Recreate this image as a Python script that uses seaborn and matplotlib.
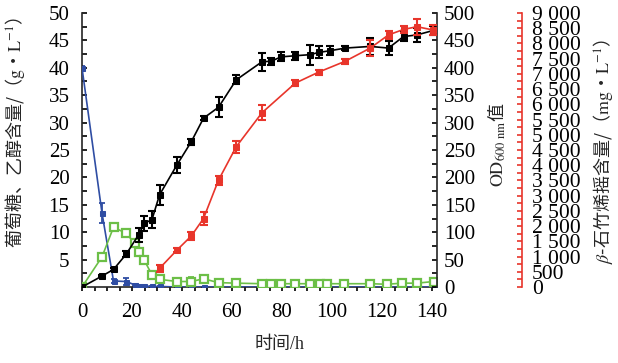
import numpy as np
import matplotlib
matplotlib.use("Agg")
import matplotlib.pyplot as plt
import seaborn as sns

# ---------------- data ----------------
t_gl = [0, 8, 12.6, 17.7, 21, 22.6, 24.9, 28, 31, 38, 43.7, 48.6, 54.6, 61.7, 72, 75.6,
        79.7, 85.3, 91.3, 95.3, 98, 104.6, 115.3, 122, 128, 134, 140.6]
glucose = [40, 13.5, 1.1, 1.0, 0.4, 0.2, 0.2, 0.1, 0.1, 0, 0, 0, 0, 0, 0, 0,
           0, 0, 0, 0, 0, 0, 0, 0, 0, 0, 0]
glucose_err = [0.3, 1.8, 0.3, 0.6, 0.2, 0.1, 0.1, 0.1, 0.1, 0, 0, 0, 0, 0, 0, 0,
               0, 0, 0, 0, 0, 0, 0, 0, 0, 0, 0]
ethanol = [0, 5.5, 10.9, 9.8, 8.0, 6.4, 4.9, 2.2, 1.4, 1.0, 1.0, 1.5, 0.8, 0.7, 0.6, 0.6,
           0.6, 0.6, 0.6, 0.6, 0.6, 0.6, 0.6, 0.5, 0.7, 0.7, 1.0]
ethanol_err = [0, 0.3, 0.4, 0.3, 0.3, 0.6, 0.3, 0.8, 0.3, 0.2, 0.8, 0.3, 0.2, 0.1, 0.1, 0.1,
               0.1, 0.1, 0.1, 0.1, 0.1, 0.1, 0.1, 0.1, 0.2, 0.2, 0.6]

t_od = [0, 8, 12.6, 17.7, 22.6, 24.9, 28, 31, 38, 43.7, 48.6, 54.6, 61.7, 72, 75.6, 79.7,
        85.3, 91.3, 94.6, 99, 105.3, 115.3, 122.6, 128.6, 134, 140.4]
od600 = [0, 20, 32, 60, 95, 116, 123, 168, 223, 265, 308, 328, 378, 411, 412, 420,
         422, 424, 428, 431, 436, 439, 436, 457, 460, 468]
od600_err = [0, 2, 3, 5, 12, 14, 15, 18, 15, 5, 4, 18, 8, 16, 6, 8,
             7, 18, 11, 8, 4, 16, 13, 9, 13, 8]

t_bc = [31, 38, 43.7, 48.6, 54.6, 61.7, 72, 85.3, 94.6, 105.3, 115.3, 122.6, 128.6, 134, 140.4]
caryophyllene = [612, 1215, 1674, 2250, 3510, 4608, 5724, 6696, 7056, 7416, 7848, 8280,
                 8460, 8550, 8442]
caryophyllene_err = [110, 80, 130, 200, 150, 200, 250, 100, 80, 80, 260, 120, 120, 260, 170]

x_ticks = [0, 20, 40, 60, 80, 100, 120, 140]
left_ticks = [5, 10, 15, 20, 25, 30, 35, 40, 45, 50]
od_ticks = [0, 50, 100, 150, 200, 250, 300, 350, 400, 450, 500]
bc_ticks = list(range(0, 9001, 500))
bc_labels = ["0", "500"] + [f"{v // 1000} {v % 1000:03d}" for v in bc_ticks[2:]]

# ---------------- style ----------------
sns.set_theme(style="ticks")
plt.rcParams["font.family"] = ["Liberation Serif", "Noto Sans CJK SC", "DejaVu Sans"]
plt.rcParams["mathtext.fontset"] = "stix"
plt.rcParams["axes.linewidth"] = 1.2

BLACK = "#000000"
RED = "#e8352b"
BLUE = "#2f4da3"
GREEN = "#6cbf47"
CJK = "Noto Sans CJK SC"

W, H = 618, 363
fig = plt.figure(figsize=(W / 100, H / 100), dpi=100)
L, R, T, B = 82, 437, 13, 287
ax = fig.add_axes([L / W, (H - B) / H, (R - L) / W, (B - T) / H])
ax2 = ax.twinx()
ax3 = ax.twinx()

# glucose (blue)
ax.errorbar(t_gl, glucose, yerr=glucose_err, fmt="none", ecolor=BLUE, elinewidth=1.3,
            capsize=2.2, capthick=1.3, zorder=2)
sns.lineplot(x=t_gl, y=glucose, ax=ax, color=BLUE, lw=1.2, marker="s", markersize=3.6,
             markeredgecolor=BLUE, errorbar=None, zorder=3)
# ethanol (green, open)
ax.errorbar(t_gl, ethanol, yerr=ethanol_err, fmt="none", ecolor=GREEN, elinewidth=1.3,
            capsize=2.2, capthick=1.3, zorder=4)
sns.lineplot(x=t_gl, y=ethanol, ax=ax, color=GREEN, lw=1.2, marker="s", markersize=5.2,
             markerfacecolor="white", markeredgecolor=GREEN, markeredgewidth=1.6,
             errorbar=None, zorder=5)
# OD600 (black)
ax2.errorbar(t_od, od600, yerr=od600_err, fmt="none", ecolor=BLACK, elinewidth=1.5,
             capsize=2.6, capthick=1.5, zorder=2)
sns.lineplot(x=t_od, y=od600, ax=ax2, color=BLACK, lw=1.2, marker="s", markersize=4.2,
             markeredgecolor=BLACK, errorbar=None, zorder=3)
# beta-caryophyllene (red)
ax3.errorbar(t_bc, caryophyllene, yerr=caryophyllene_err, fmt="none", ecolor=RED,
             elinewidth=1.5, capsize=2.6, capthick=1.5, zorder=2)
sns.lineplot(x=t_bc, y=caryophyllene, ax=ax3, color=RED, lw=1.2, marker="s", markersize=4.6,
             markeredgecolor=RED, errorbar=None, zorder=3)

# ---------------- axes ----------------
ax.set_xlim(0, 142)
ax.set_ylim(0, 50)
ax2.set_ylim(0, 500)
ax3.set_ylim(0, 9000)

ax.set_xticks(x_ticks)
ax.set_xticks(np.arange(0, 142, 5), minor=True)
ax.set_yticks(left_ticks)
ax.set_yticks(np.arange(2.5, 50, 5), minor=True)
ax2.set_yticks(od_ticks)
ax2.set_yticks(np.arange(25, 500, 50), minor=True)
ax3.set_yticks(bc_ticks)
ax3.set_yticklabels(bc_labels)
ax3.set_yticks(np.arange(250, 9000, 500), minor=True)

for a in (ax, ax2, ax3):
    a.set_xlabel("")
    a.set_ylabel("")
    a.spines["top"].set_visible(False)

ax.spines["right"].set_visible(False)
ax2.spines["left"].set_visible(False)
ax2.spines["bottom"].set_visible(False)
ax3.spines["left"].set_visible(False)
ax3.spines["bottom"].set_visible(False)
ax3.spines["right"].set_position(("axes", (521.7 - L) / (R - L)))
ax3.spines["right"].set_color(RED)
ax3.spines["right"].set_linewidth(1.2)

ax.tick_params(axis="x", which="both", direction="out", length=3.2, width=1.2,
               labelsize=15, pad=8, colors=BLACK)
ax.tick_params(axis="y", which="both", direction="in", length=3.8, width=1.2,
               labelsize=15, pad=9, colors=BLACK)
ax2.tick_params(axis="y", which="both", direction="in", length=3.8, width=1.2,
                labelsize=15, pad=5, colors=BLACK)
ax3.tick_params(axis="y", which="both", direction="in", length=3.8, width=1.2,
                labelsize=15.5, pad=7.5, color=RED, labelcolor=BLACK)

# labels
ax.set_xlabel("时间/h", fontsize=13)
ax.xaxis.set_label_coords((280 - L) / (R - L), (B - 345) / (B - T))
ax.xaxis.label.set_va("center")

ax.set_ylabel(r"葡萄糖、乙醇含量/（$\mathrm{g}$•$\mathrm{L}^{-1}$）", fontsize=13,
              va="center", family=CJK)
ax.yaxis.set_label_coords((15 - L) / (R - L), (B - 132) / (B - T))

ax2.set_ylabel(r"$\mathrm{OD}_{\mathrm{600\ nm}}$值", fontsize=13, va="center",
               rotation=90, family=CJK)
ax2.yaxis.set_label_coords((497 - L) / (R - L), (B - 145) / (B - T))

ax3.set_ylabel(r"$\beta$-石竹烯摇含量/（$\mathrm{mg}$•$\mathrm{L}^{-1}$）", fontsize=13,
               va="center", rotation=90, family=CJK)
ax3.yaxis.set_label_coords((603 - L) / (R - L), (B - 151) / (B - T))

fig.savefig("out.png", dpi=100)
